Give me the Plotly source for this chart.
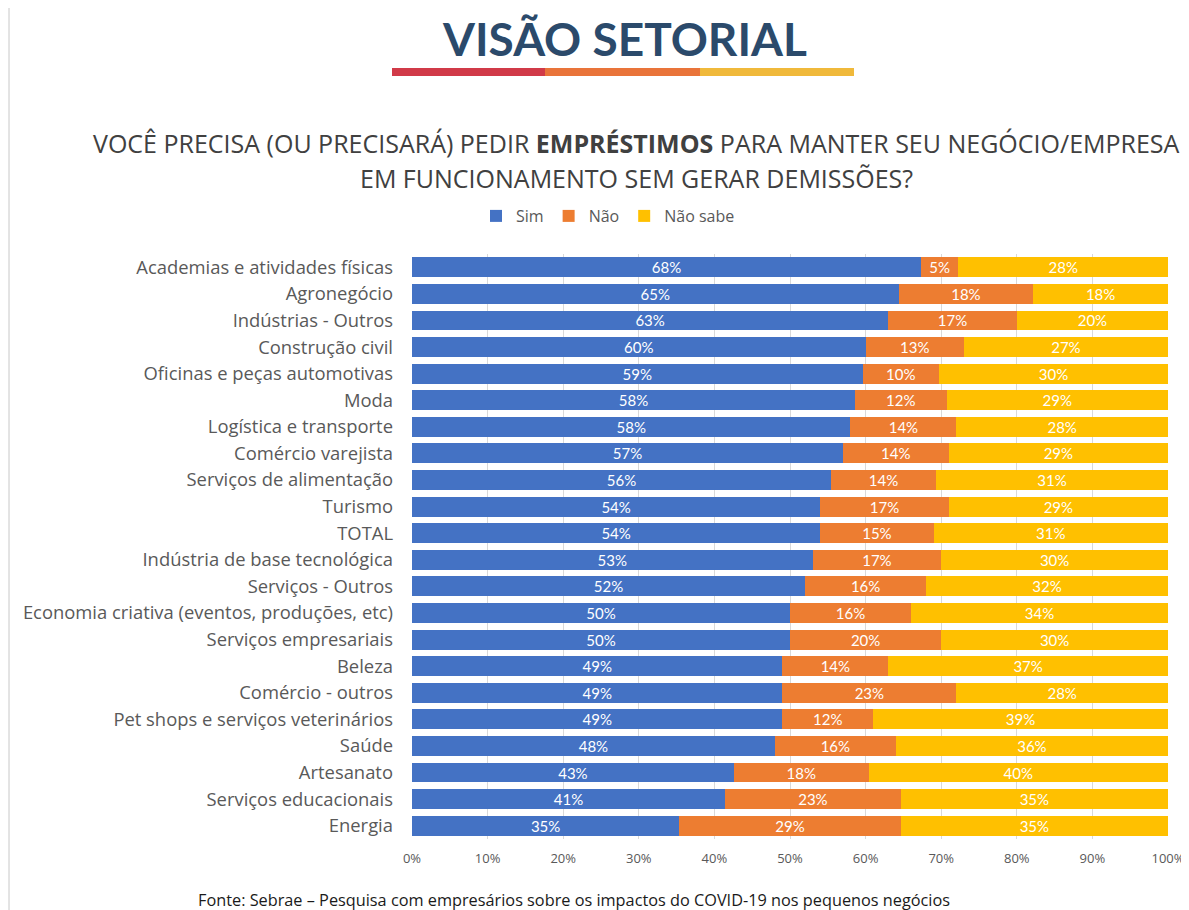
import plotly.graph_objects as go

categories = [
    "Academias e atividades físicas", "Agronegócio", "Indústrias - Outros",
    "Construção civil", "Oficinas e peças automotivas", "Moda",
    "Logística e transporte", "Comércio varejista", "Serviços de alimentação",
    "Turismo", "TOTAL", "Indústria de base tecnológica", "Serviços - Outros",
    "Economia criativa (eventos, produções, etc)", "Serviços empresariais",
    "Beleza", "Comércio - outros", "Pet shops e serviços veterinários",
    "Saúde", "Artesanato", "Serviços educacionais", "Energia",
]
sim = [68, 65, 63, 60, 59, 58, 58, 57, 56, 54, 54, 53, 52, 50, 50, 49, 49, 49, 48, 43, 41, 35]
nao = [5, 18, 17, 13, 10, 12, 14, 14, 14, 17, 15, 17, 16, 16, 20, 14, 23, 12, 16, 18, 23, 29]
nao_sabe = [28, 18, 20, 27, 30, 29, 28, 29, 31, 29, 31, 30, 32, 34, 30, 37, 28, 39, 36, 40, 35, 35]
series_names = ["Sim", "Não", "Não sabe"]
series_colors = ["#4472C4", "#ED7D31", "#FFC000"]
tick_vals = [0, 10, 20, 30, 40, 50, 60, 70, 80, 90, 100]
tick_text = ["0%", "10%", "20%", "30%", "40%", "50%", "60%", "70%", "80%", "90%", "100%"]

OFF = 8  # page body margin
W, H = 1189 - OFF, 910 - OFF
L, R, T, B = 412, 1168, 254, 839  # plot area in page pixels


def px_x(px):
    return (px - L) / (R - L)


def px_y(py):
    return (B - py) / (B - T)


fig = go.Figure()
for name, vals, col in zip(series_names, [sim, nao, nao_sabe], series_colors):
    fig.add_trace(go.Bar(
        y=categories, x=vals, name=name, orientation="h",
        marker=dict(color=col, line=dict(width=0)),
        text=[f"{v}%" for v in vals], textposition="inside",
        insidetextanchor="middle", constraintext="none",
        textfont=dict(color="white", size=15, family="Lato"),
        hovertemplate="%{y}: " + name + " %{text}<extra></extra>",
    ))

fig.update_layout(
    width=W, height=H, barmode="stack", barnorm="percent", bargap=0.25,
    paper_bgcolor="white", plot_bgcolor="white",
    margin=dict(l=L - OFF, r=1189 - R, t=T - OFF, b=910 - B, autoexpand=False),
    font=dict(family="Open Sans", color="#595959"),
    showlegend=True,
    legend=dict(orientation="h", x=px_x(608), xanchor="center", y=px_y(216), yanchor="middle",
                font=dict(size=16, color="#595959", family="Open Sans"),
                traceorder="normal", itemwidth=30, bgcolor="rgba(0,0,0,0)"),
    xaxis=dict(range=[0, 100], tickvals=tick_vals, ticktext=tick_text, showgrid=True,
               gridcolor="#D9D9D9", gridwidth=1, zeroline=False, showline=False,
               tickfont=dict(size=13, color="#595959", family="Open Sans"), ticks="",
               ticklabelstandoff=10, fixedrange=True),
    yaxis=dict(autorange="reversed", tickfont=dict(size=18.4, color="#595959", family="Open Sans"),
               ticks="", showline=False, ticklabelstandoff=18, fixedrange=True),
)

# Title
fig.add_annotation(text="<b>VISÃO SETORIAL</b>", xref="paper", yref="paper",
                   x=px_x(624), y=px_y(38), xanchor="center", yanchor="middle",
                   showarrow=False, font=dict(size=46, color="#2B4A6B", family="Lato"))
# Colored underline segments
for x0, x1, c in [(392, 545, "#D13A48"), (545, 700, "#E9743A"), (700, 854, "#F0B93B")]:
    fig.add_shape(type="rect", xref="paper", yref="paper", x0=px_x(x0), x1=px_x(x1),
                  y0=px_y(76), y1=px_y(68), fillcolor=c, line=dict(width=0), layer="above")

# Subtitle
fig.add_annotation(text="VOCÊ PRECISA (OU PRECISARÁ) PEDIR <b>EMPRÉSTIMOS</b> PARA MANTER SEU NEGÓCIO/EMPRESA",
                   xref="paper", yref="paper", x=px_x(636), y=px_y(143), xanchor="center",
                   yanchor="middle", showarrow=False,
                   font=dict(size=25, color="#404040", family="Open Sans"))
fig.add_annotation(text="EM FUNCIONAMENTO SEM GERAR DEMISSÕES?",
                   xref="paper", yref="paper", x=px_x(636), y=px_y(178), xanchor="center",
                   yanchor="middle", showarrow=False,
                   font=dict(size=25, color="#404040", family="Open Sans"))

# Footer
fig.add_annotation(text="Fonte: Sebrae – Pesquisa com empresários sobre os impactos do COVID-19 nos pequenos negócios",
                   xref="paper", yref="paper", x=px_x(574), y=px_y(900), xanchor="center",
                   yanchor="middle", showarrow=False,
                   font=dict(size=16.3, color="#1A1A1A", family="Open Sans"))

# Left frame line
fig.add_shape(type="line", xref="paper", yref="paper", x0=px_x(9), x1=px_x(9),
              y0=px_y(0), y1=px_y(910), line=dict(color="#C8C8C8", width=1))

fig.write_html("out.html")
